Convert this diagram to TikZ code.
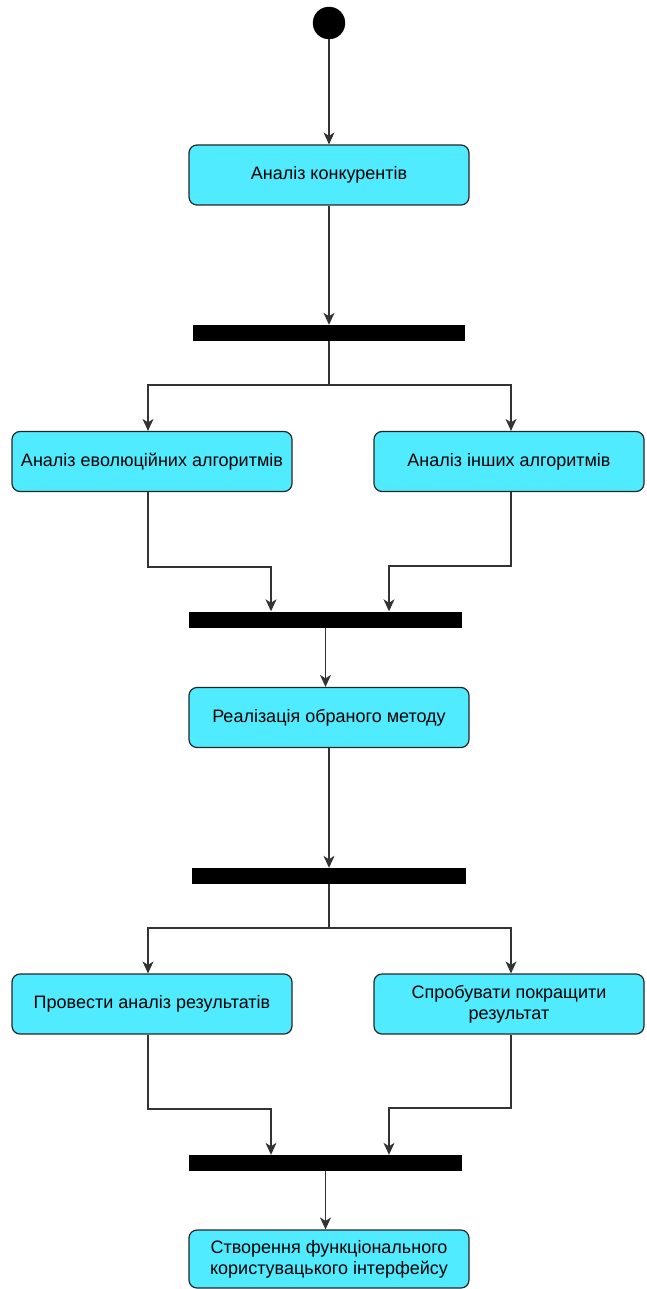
\documentclass[tikz,border=0pt]{standalone}
\usepackage{fontspec}
\setmainfont{Liberation Sans}
\usetikzlibrary{arrows.meta}
\definecolor{actfill}{HTML}{50EBFF}
\definecolor{edge}{HTML}{333333}
\tikzset{
  x=1pt, y=-1pt,
  activity/.style={draw=black!85, line width=1.2pt, fill=actfill, rounded corners=8pt,
    minimum width=280pt, minimum height=60pt, inner sep=2pt, align=center,
    font=\fontsize{18}{21}\selectfont},
  syncbar/.style={fill=black, draw=none, minimum height=16pt, inner sep=0pt},
  initial/.style={circle, fill=black, draw=black, minimum size=32pt, inner sep=0pt},
  flow/.style={draw=edge, line width=1.1pt},
  arr/.style={flow, -{Stealth[length=12pt, width=11pt, inset=3.5pt]}}
}
\begin{document}
\begin{tikzpicture}
\useasboundingbox (0,0) rectangle (646,1289);

% start and first activity
\node[initial] (start) at (329,23) {};
\node[activity] (comp) at (329,175) {Аналіз конкурентів};
\node[syncbar, minimum width=272pt] (fork1) at (329,333) {};

% parallel analysis
\node[activity] (evo) at (152,461.5) {Аналіз еволюційних алгоритмів};
\node[activity, minimum width=270pt] (other) at (509,461.5) {Аналіз інших алгоритмів};
\node[syncbar, minimum width=273pt] (join1) at (325.5,619.5) {};

% implementation
\node[activity] (impl) at (329,717.5) {Реалізація обраного методу};
\node[syncbar, minimum width=274pt] (fork2) at (329,876) {};

% parallel result work
\node[activity] (res) at (152,1004) {Провести аналіз результатів};
\node[activity, minimum width=270pt] (impr) at (509,1004) {Спробувати покращити\\результат};
\node[syncbar, minimum width=273pt] (join2) at (325.5,1163) {};

% final activity
\node[activity, minimum height=58pt] (ui) at (329,1259) {Створення функціонального\\користувацького інтерфейсу};

% branch columns and bend points
\coordinate (xl) at (148,0);
\coordinate (xr) at (511,0);
\coordinate (f1) at (329,385);
\coordinate (f2) at (329,928);
\coordinate (j1l) at (271,567);
\coordinate (j1r) at (389,566);
\coordinate (j2l) at (271,1109);
\coordinate (j2r) at (389,1108);

% connectors
\draw[arr] (start) -- (comp);
\draw[arr] (comp) -- (fork1);

\draw[flow] (fork1.south) -- (f1);
\draw[arr] (f1) -| (xl |- evo.north);
\draw[arr] (f1) -| (xr |- other.north);

\draw[arr] (xl |- evo.south) |- (j1l) -- (j1l |- join1.north);
\draw[arr] (xr |- other.south) |- (j1r) -- (j1r |- join1.north);

\draw[arr] (join1.south) -- (join1.south |- impl.north);
\draw[arr] (impl) -- (fork2);

\draw[flow] (fork2.south) -- (f2);
\draw[arr] (f2) -| (xl |- res.north);
\draw[arr] (f2) -| (xr |- impr.north);

\draw[arr] (xl |- res.south) |- (j2l) -- (j2l |- join2.north);
\draw[arr] (xr |- impr.south) |- (j2r) -- (j2r |- join2.north);

\draw[arr] (join2.south) -- (join2.south |- ui.north);
\end{tikzpicture}
\end{document}
